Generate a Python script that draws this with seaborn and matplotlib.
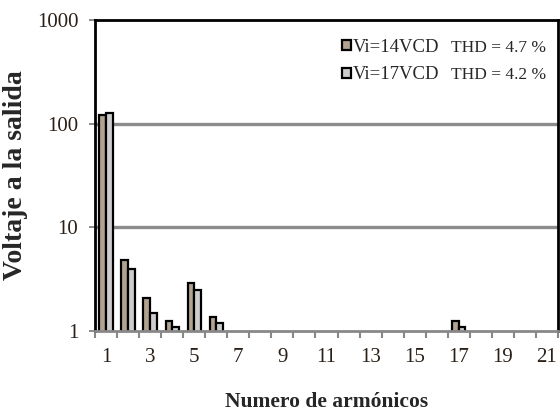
import matplotlib
matplotlib.use("Agg")
import matplotlib.pyplot as plt
import seaborn as sns
import pandas as pd
from matplotlib.patches import Patch

# Harmonic amplitudes for the two input voltages
harmonics = [1, 2, 3, 4, 5, 6, 17]
v14 = [121, 4.8, 2.1, 1.24, 2.9, 1.37, 1.25]
v17 = [126, 4.0, 1.5, 1.1, 2.5, 1.2, 1.1]
series_names = ["Vi=14VCD", "Vi=17VCD"]
thd_labels = ["THD = 4.7 %", "THD = 4.2 %"]
all_harmonics = [str(h) for h in range(1, 22)]
y_ticks = [1, 10, 100, 1000]

df = pd.DataFrame({
    "armonico": [str(h) for h in harmonics] * 2,
    "voltaje": v14 + v17,
    "serie": [series_names[0]] * len(harmonics) + [series_names[1]] * len(harmonics),
})

sns.set_style("white")
plt.rcParams["font.family"] = ["Liberation Serif", "DejaVu Serif"]

fig = plt.figure(figsize=(5.6, 4.18), dpi=100)
ax = fig.add_axes([0.1696, 0.208, 0.8268, 0.744])

colors = ["#b2a290", "#cdcdcd"]
sns.barplot(data=df, x="armonico", y="voltaje", hue="serie", order=all_harmonics,
            hue_order=series_names, palette=colors, width=0.6, edgecolor="black",
            linewidth=1.6, ax=ax, legend=False, saturation=1)

ax.set_yscale("log")
ax.set_ylim(1, 1000)
ax.set_xlim(-0.5, 20.5)

# grid lines at 10 and 100
for g in [10, 100]:
    ax.axhline(g, color="#8c8c8c", lw=2.4, zorder=0)

ax.set_yticks(y_ticks)
ax.set_yticklabels([str(t) for t in y_ticks], fontsize=15, color="#2a2018")
ax.yaxis.set_minor_locator(matplotlib.ticker.NullLocator())
ax.tick_params(axis="y", which="major", length=4, width=1.2, color="#777777",
               left=True, pad=8)

# tick marks at category boundaries, labels on odd harmonics
ax.set_xticks([i - 0.5 for i in range(22)])
ax.set_xticklabels([])
ax.set_xticks([i for i in range(0, 21, 2)], minor=True)
ax.set_xticklabels(all_harmonics[::2], minor=True, fontsize=15, color="#2a2018")
ax.tick_params(axis="x", which="major", length=5, width=1.5, color="#888888",
               bottom=True, direction="out")
ax.tick_params(axis="x", which="minor", length=0, pad=12)

for side in ["left", "top", "right"]:
    ax.spines[side].set_color("black")
    ax.spines[side].set_linewidth(2)
ax.spines["bottom"].set_color("#888888")
ax.spines["bottom"].set_linewidth(2)

ax.set_xlabel("Numero de armónicos", fontsize=15.5, fontweight="bold", labelpad=18)
ax.set_ylabel("Voltaje a la salida", fontsize=20, fontweight="bold", labelpad=6)

handles = [Patch(facecolor=c, edgecolor="black", linewidth=1.6) for c in colors]
ax.legend(handles, series_names, loc="upper left", bbox_to_anchor=(0.518, 0.963),
          frameon=False, fontsize=13.5, handlelength=0.45, handleheight=0.45,
          handletextpad=0.1, labelspacing=0.55, borderaxespad=0)

for i, t in enumerate(thd_labels):
    ax.text(0.769, 0.91 - i * 0.086, t, transform=ax.transAxes, fontsize=12.5,
            va="center", ha="left")

fig.savefig("out.png", dpi=100)
